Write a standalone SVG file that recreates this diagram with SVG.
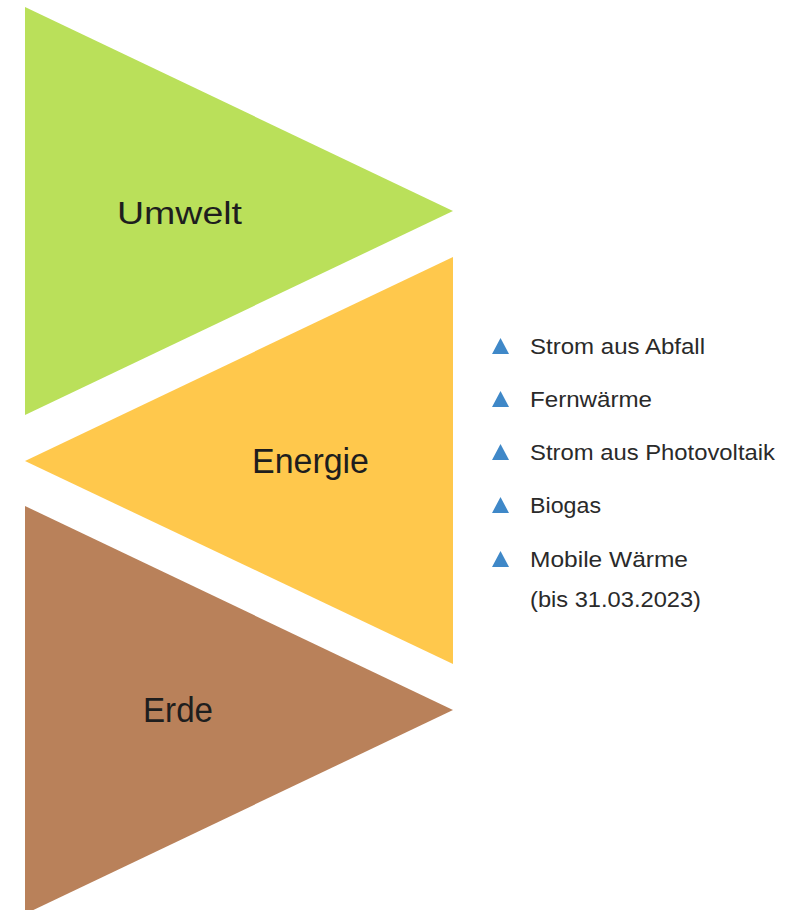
<svg xmlns="http://www.w3.org/2000/svg" width="794" height="910" viewBox="0 0 794 910">
<style>
.lbl{font-family:"Liberation Sans",Arial,sans-serif;font-size:34px;fill:#1e1e1e}
.item{font-family:"Liberation Sans",Arial,sans-serif;font-size:22px;fill:#2a2a2a}
.bul{fill:#3f88c8}
</style>
<rect width="794" height="910" fill="#ffffff"/>
<g id="umwelt">
<polygon points="25,7 453,211 25,415" fill="#bae05a"/>
<text class="lbl" x="117" y="224" style="font-size:31px" textLength="125" lengthAdjust="spacingAndGlyphs">Umwelt</text>
</g>
<g id="energie">
<polygon points="453,257 453,664 25,461" fill="#ffc84c"/>
<text class="lbl" x="252" y="473" style="font-size:35px" textLength="117" lengthAdjust="spacingAndGlyphs">Energie</text>
</g>
<g id="erde">
<polygon points="25,506 453,710 25,914" fill="#b9815a"/>
<text class="lbl" x="143" y="722" style="font-size:35px" textLength="70" lengthAdjust="spacingAndGlyphs">Erde</text>
</g>
<g id="list">
<polygon class="bul" points="492,354 500.5,338 509,354"/>
<text class="item" x="530" y="354" textLength="175" lengthAdjust="spacingAndGlyphs">Strom aus Abfall</text>
<polygon class="bul" points="492,407 500.5,391 509,407"/>
<text class="item" x="530" y="407" textLength="122" lengthAdjust="spacingAndGlyphs">Fernwärme</text>
<polygon class="bul" points="492,460 500.5,444 509,460"/>
<text class="item" x="530" y="460" textLength="245" lengthAdjust="spacingAndGlyphs">Strom aus Photovoltaik</text>
<polygon class="bul" points="492,513 500.5,497 509,513"/>
<text class="item" x="530" y="513" textLength="71" lengthAdjust="spacingAndGlyphs">Biogas</text>
<polygon class="bul" points="492,567 500.5,551 509,567"/>
<text class="item" x="530" y="567" textLength="158" lengthAdjust="spacingAndGlyphs">Mobile Wärme</text>
<text class="item" x="530" y="607" textLength="171" lengthAdjust="spacingAndGlyphs">(bis 31.03.2023)</text>
</g>
</svg>
